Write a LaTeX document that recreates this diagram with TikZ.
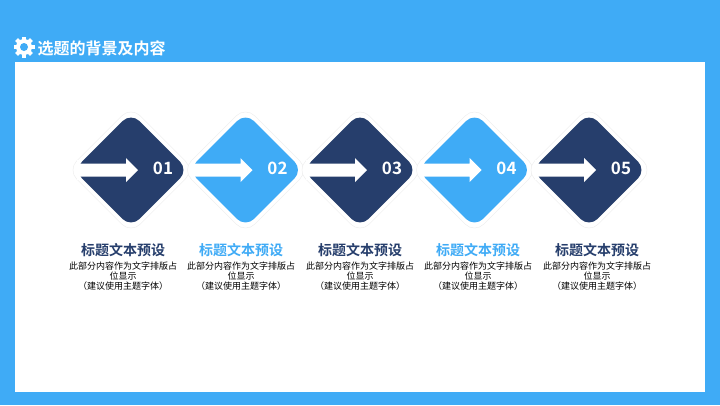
\documentclass[tikz,border=0pt]{standalone}
\usepackage{fontspec}
\setmainfont{Noto Sans CJK SC}
\newfontfamily\grasfont{Noto Sans CJK SC Bold}
\usetikzlibrary{shapes.geometric}
\definecolor{fond}{HTML}{3FABF6}
\definecolor{marine}{HTML}{263E6C}
\definecolor{halo}{HTML}{ECECEC}
\begin{document}
\begin{tikzpicture}[x=1pt,y=-1pt]
\tikzstyle{entete}=[text=white,font=\fontsize{16}{16}\selectfont\grasfont,anchor=west,inner sep=0pt]
\tikzstyle{numero}=[text=white,font=\fontsize{17}{17}\selectfont\grasfont,inner sep=0pt]
\tikzstyle{corps}=[align=center,text=black,font=\fontsize{9}{9.9}\selectfont,inner sep=0pt,anchor=north]
\tikzset{losange/.style={diamond,aspect=1,fill=#1,rounded corners=12pt,minimum size=115pt,inner sep=0pt},
losange/.default={marine},
contour/.style={diamond,aspect=1,draw=halo,fill=white,rounded corners=13pt,minimum size=127pt,inner sep=0pt},
titre/.style={text=#1,font=\fontsize{14}{15}\selectfont\grasfont,inner sep=0pt},
fleche/.style={fill=white}}
\useasboundingbox (0,0) rectangle (720,405);
\fill[fond] (0,0) rectangle (720,405);
\fill[white] (15,62) rectangle (705,392);
% engrenage
\fill[white] (24,47) circle (8);
\foreach \a in {0,45,...,315}
  \fill[white,rotate around={\a:(24,47)}] (22,36.5) rectangle (26,41);
\fill[fond] (24,47) circle (4);
\node[entete] (E) at (37.5,48) {选题的背景及内容};
% les cinq etapes
\foreach \i/\x/\tx/\c in {1/131/123/marine,2/245.5/241/fond,3/360/360/marine,4/474.5/478/fond,5/589/597/marine}{
  \node[contour] (C\i) at (\x,170) {};
  \node[losange=\c] (L\i) at (\x,170) {};
  \fill[white] (\x-54,160) rectangle (\x-51,180);
  \fill[fleche] (\x-51,163.5) -- (\x-5,163.5) -- (\x-5,158) -- (\x+7,170) -- (\x-5,182) -- (\x-5,176.5) -- (\x-51,176.5) -- cycle;
  \node[numero] (N\i) at (\x+32,168) {0\i};
  \node[titre=\c] (T\i) at (\tx,250) {标题文本预设};
  \node[corps] (B\i) at (\tx,262) {此部分内容作为文字排版占\\位显示\\（建议使用主题字体）};
}
\end{tikzpicture}
\end{document}
